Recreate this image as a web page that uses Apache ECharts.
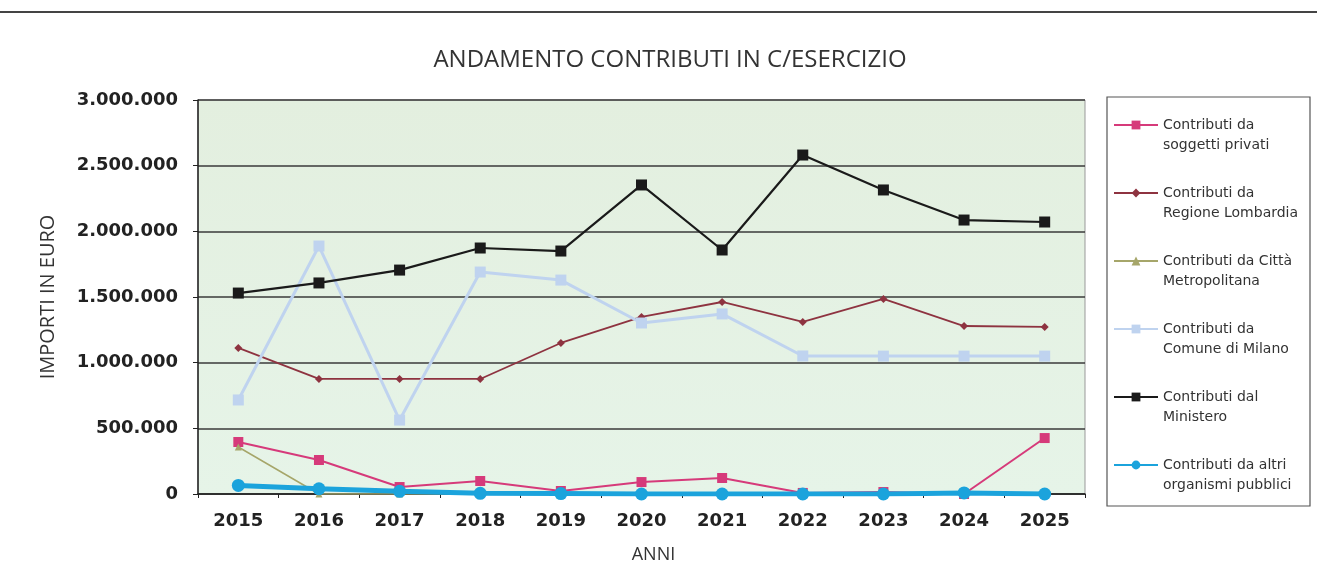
<!DOCTYPE html>
<html>
<head>
<meta charset="utf-8">
<script src="https://cdn.jsdelivr.net/npm/echarts@6/dist/echarts.min.js"></script>
<style>
  html, body { margin: 0; padding: 0; background: #fff; }
  #main { width: 1317px; height: 571px; }
</style>
</head>
<body>
<div id="main"></div>
<script>
// anni e valori
var anni = ['2015', '2016', '2017', '2018', '2019', '2020', '2021', '2022', '2023', '2024', '2025'];
var yTicks = [0, 500000, 1000000, 1500000, 2000000, 2500000, 3000000];

var privati = [396000, 259000, 53000, 99000, 23000, 91000, 122000, 8000, 15000, 0, 426000];
var regione = [1112000, 876000, 876000, 876000, 1150000, 1348000, 1462000, 1310000, 1485000, 1279000, 1272000];
var cittaMetro = [358000, 0, 0, 0, 0, 0, 0, 0, 0, 0, 0];
var milano = [716000, 1888000, 563000, 1690000, 1629000, 1302000, 1371000, 1051000, 1050000, 1050000, 1050000];
var ministero = [1530000, 1607000, 1705000, 1873000, 1850000, 2353000, 1858000, 2581000, 2315000, 2086000, 2071000];
var altri = [65000, 40000, 20000, 5000, 3000, 0, 0, 0, 0, 8000, 0];

function fmt(v) {
  return String(v).replace(/\B(?=(\d{3})+(?!\d))/g, '.');
}

var chart = echarts.init(document.getElementById('main'));

function serie(name, data, color, symbol, size, width) {
  return {
    name: name,
    type: 'line',
    data: data,
    symbol: symbol,
    symbolSize: size,
    lineStyle: { color: color, width: width },
    itemStyle: { color: color },
    animation: false
  };
}

// nomi su due righe nella legenda (riga vuota davanti: il simbolo sta sulla prima riga)
var legendaNomi = {
  'Contributi da soggetti privati': ' \nContributi da\nsoggetti privati',
  'Contributi da Regione Lombardia': ' \nContributi da\nRegione Lombardia',
  'Contributi da Città Metropolitana': ' \nContributi da Città\nMetropolitana',
  'Contributi da Comune di Milano': ' \nContributi da\nComune di Milano',
  'Contributi dal Ministero': ' \nContributi dal\nMinistero',
  'Contributi da altri organismi pubblici': ' \nContributi da altri\norganismi pubblici'
};

chart.setOption({
  backgroundColor: '#fff',
  title: {
    text: 'ANDAMENTO CONTRIBUTI IN C/ESERCIZIO',
    left: 665,
    textAlign: 'center',
    top: 43,
    textStyle: { fontFamily: 'Open Sans', fontWeight: 'normal', fontSize: 24, color: '#333' }
  },
  graphic: [
    { type: 'line', shape: { x1: 0, y1: 12, x2: 1317, y2: 12 }, style: { stroke: '#444', lineWidth: 2 } },
    { type: 'rect', shape: { x: 1107, y: 97, width: 203, height: 409 }, style: { fill: null, stroke: '#555', lineWidth: 1.2 } }
  ],
  legend: {
    orient: 'vertical',
    left: 1113,
    top: 95,
    padding: 0,
    itemWidth: 44,
    itemHeight: 11,
    itemGap: 8,
    textStyle: { fontFamily: 'DejaVu Sans', fontSize: 14, color: '#333', lineHeight: 20 },
    formatter: function (n) {
      return legendaNomi[n] || n;
    }
  },
  grid: { left: 198, right: 232, top: 100, bottom: 77, show: true, borderColor: '#999', borderWidth: 1,
    backgroundColor: new echarts.graphic.LinearGradient(0, 0, 0, 1, [
      { offset: 0, color: '#e3efdf' }, { offset: 1, color: '#e6f4e8' }]) },
  xAxis: {
    type: 'category',
    data: anni,
    boundaryGap: true,
    name: 'ANNI',
    nameLocation: 'middle',
    nameGap: 52,
    nameTextStyle: { fontFamily: 'Open Sans', fontSize: 18, color: '#333', padding: [0, 0, 0, 24] },
    axisLine: { lineStyle: { color: '#222', width: 1.5 } },
    axisTick: { show: true, length: 4, lineStyle: { color: '#222' } },
    axisLabel: { fontFamily: 'DejaVu Sans', fontWeight: 'bold', fontSize: 18, color: '#222', margin: 18 }
  },
  yAxis: {
    type: 'value',
    min: yTicks[0],
    max: yTicks[yTicks.length - 1],
    interval: 500000,
    name: 'IMPORTI IN EURO',
    nameLocation: 'middle',
    nameGap: 140,
    nameRotate: 90,
    nameTextStyle: { fontFamily: 'Open Sans', fontSize: 20, color: '#333' },
    axisLine: { show: true, lineStyle: { color: '#222', width: 1.5 } },
    axisTick: { show: true, length: 5, lineStyle: { color: '#222' } },
    axisLabel: { fontFamily: 'DejaVu Sans', fontWeight: 'bold', fontSize: 18, color: '#222', margin: 20, formatter: fmt },
    splitLine: { lineStyle: { color: '#3a3a3a', width: 1.5 } }
  },
  series: [
    serie('Contributi da soggetti privati', privati, '#d63a7a', 'rect', 10, 2),
    serie('Contributi da Regione Lombardia', regione, '#8e3340', 'diamond', 8, 1.8),
    serie('Contributi da Città Metropolitana', cittaMetro, '#a6a66a', 'triangle', 7, 1.5),
    serie('Contributi da Comune di Milano', milano, '#bfd3ef', 'rect', 11, 3),
    serie('Contributi dal Ministero', ministero, '#1a1a1a', 'rect', 11, 2.2),
    serie('Contributi da altri organismi pubblici', altri, '#1ba3dc', 'circle', 13, 5)
  ]
});
</script>
</body>
</html>
